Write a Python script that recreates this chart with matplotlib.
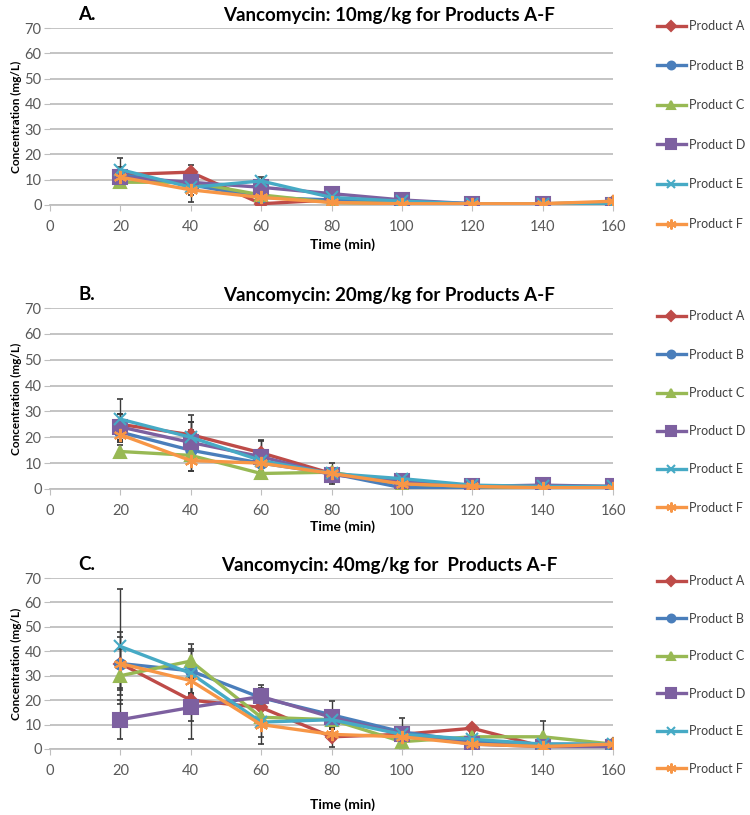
import matplotlib
matplotlib.use("Agg")
import matplotlib.pyplot as plt

plt.rcParams["font.family"] = ["Lato", "DejaVu Sans"]

# ── Data ──────────────────────────────────────────────────────────────────────
times = [20, 40, 60, 80, 100, 120, 140, 160]
products = ["Product A", "Product B", "Product C", "Product D", "Product E", "Product F"]

# 10 mg/kg, one row per product A-F
conc_10 = [
    [12, 13, 0.5, 2, 1, 0.5, 0.5, 1],
    [12, 8, 3, 2, 1, 0.5, 0.5, 0.5],
    [9, 9, 4, 1, 0.5, 0.5, 0.5, 1],
    [11, 9, 7, 4.5, 2, 0.5, 0.5, 0],
    [14, 7, 9.5, 3, 1.5, 0.5, 0.5, 0.5],
    [11, 6, 3, 1, 0.5, 0.5, 0.5, 1.5],
]
err_10 = [
    [2, 3, 1, 1, 0.5, 0.5, 0.5, 0.5],
    [3, 2, 1, 1, 0.5, 0.3, 0.3, 0.3],
    [1, 2, 1, 0.5, 0.3, 0.3, 0.3, 0.3],
    [2, 3, 2, 1, 0.5, 0.3, 0.3, 0.3],
    [4.5, 6, 1.5, 1, 0.5, 0.3, 0.3, 0.3],
    [2, 2, 1, 0.5, 0.3, 0.3, 0.3, 0.3],
]

# 20 mg/kg
conc_20 = [
    [25, 21, 14, 6, 2, 1, 1, 1],
    [22, 15, 10, 6, 0.5, 0.5, 0.5, 0.5],
    [14.5, 13, 6, 6.5, 2, 1, 0.5, 0.5],
    [24, 18, 12.5, 5.5, 3, 1, 1.5, 1],
    [27, 20, 11, 6, 4, 1.5, 1, 1],
    [21, 11, 10, 6, 2, 1, 0.5, 0.5],
]
err_20 = [
    [4, 7.5, 5, 2, 1, 0.5, 0.5, 0.5],
    [4, 8, 3, 2, 0.5, 0.3, 0.3, 0.3],
    [2.5, 3, 2, 1.5, 1, 0.5, 0.3, 0.3],
    [5, 8, 6, 2, 1, 0.5, 0.5, 0.5],
    [8, 6, 3, 4, 1.5, 0.5, 0.5, 0.5],
    [3, 4, 2, 2, 1, 0.5, 0.3, 0.3],
]

# 40 mg/kg
conc_40 = [
    [35, 20, 17, 5, 6, 8.5, 1, 2],
    [35, 32, 21, 14, 7, 3, 2, 2],
    [30, 36, 13, 12, 3, 5, 5, 2],
    [12, 17, 21.5, 13, 6, 2, 1, 1],
    [42, 31, 11, 12, 6, 4, 2, 2],
    [35, 28, 10, 6, 5, 2, 1, 2],
]
err_40 = [
    [13, 8.5, 3, 4, 2, 1.5, 1, 1],
    [11, 9, 4, 5.5, 2, 1, 1, 1],
    [5, 7, 3, 3, 1.5, 1.5, 6.5, 1],
    [8, 13, 4.5, 3, 6.5, 1, 1, 1],
    [23.5, 9, 6, 4, 2, 1, 1, 1],
    [6, 5, 8, 2, 2, 1, 1, 1],
]

colors  = ["#BE4B48", "#4A7EBB", "#98B954", "#7D60A0", "#46AAC5", "#F79646"]
markers = ["D", "o", "^", "s", "x", (6, 2, 0)]
msizes  = [6.5, 7.5, 8.5, 9.5, 8.5, 9.5]

# ── Layout (pixel positions from the reference) ───────────────────────────────
fig = plt.figure(figsize=(7.5, 8.15), dpi=100)
W, H = 750, 815

def box(top_px, bot_px):
    return [50 / W, 1 - bot_px / H, 563 / W, (bot_px - top_px) / H]

# letter, title, data, errors, axes box, xlabel y, legend centre y, legend row gap
panels = [
    ("A.", "Vancomycin: 10mg/kg for Products A-F", conc_10, err_10,
     (28, 205), 245, 125, 39.6),
    ("B.", "Vancomycin: 20mg/kg for Products A-F", conc_20, err_20,
     (308, 489), 527, 412, 38.2),
    ("C.", "Vancomycin: 40mg/kg for  Products A-F", conc_40, err_40,
     (578, 749), 805, 675, 37.5),
]

for letter, title, conc, err, (top_px, bot_px), xlab_px, leg_px, gap_px in panels:
    ax = fig.add_axes(box(top_px, bot_px))
    for i in range(len(products)):
        ax.errorbar(times, conc[i], yerr=err[i], fmt="none",
                    ecolor="#3A3A3A", elinewidth=1, capsize=2.5, capthick=1.2, zorder=2)
    for i, name in enumerate(products):
        ax.plot(times, conc[i], color=colors[i], lw=2.4, marker=markers[i],
                markersize=msizes[i], markerfacecolor=colors[i],
                markeredgecolor=colors[i], markeredgewidth=1.5,
                label=name, zorder=3 + i)

    ax.set_xlim(0, 160)
    ax.set_ylim(0, 70)
    ax.set_xticks(range(0, 161, 20))
    ax.set_yticks(range(0, 71, 10))
    ax.grid(axis="y", color="#BFBFBF", lw=1.3)
    ax.set_axisbelow(True)
    for s in ["top", "right", "left"]:
        ax.spines[s].set_visible(False)
    ax.spines["bottom"].set_color("#BFBFBF")
    ax.spines["bottom"].set_linewidth(1.3)
    ax.tick_params(axis="x", colors="#BFBFBF", labelcolor="#595959",
                   labelsize=10.5, length=4, pad=7)
    ax.tick_params(axis="y", colors="#BFBFBF", labelcolor="#595959",
                   labelsize=10.5, length=4, pad=2)
    ax.set_ylabel("Concentration (mg/L)", fontsize=8.5, fontweight="bold",
                  color="#000000", labelpad=2)

    fig.text(87 / W, 1 - (top_px - 13) / H, letter, ha="center", va="center",
             fontsize=13.5, fontweight="bold")
    fig.text(389 / W, 1 - (top_px - 13) / H, title, ha="center", va="center",
             fontsize=13.5, fontweight="bold")
    fig.text(343 / W, 1 - xlab_px / H, "Time (min)", ha="center", va="center",
             fontsize=10, fontweight="bold")

    leg_y = (bot_px - leg_px) / (bot_px - top_px)
    leg = ax.legend(loc="center left", bbox_to_anchor=(1.078, leg_y),
                    frameon=False, fontsize=9, handlelength=2.3,
                    handletextpad=0.3, labelspacing=(gap_px - 12) / 12.5,
                    borderpad=0, borderaxespad=0, markerscale=0.75)
    for t in leg.get_texts():
        t.set_color("#404040")

fig.savefig("out.png", dpi=100)
